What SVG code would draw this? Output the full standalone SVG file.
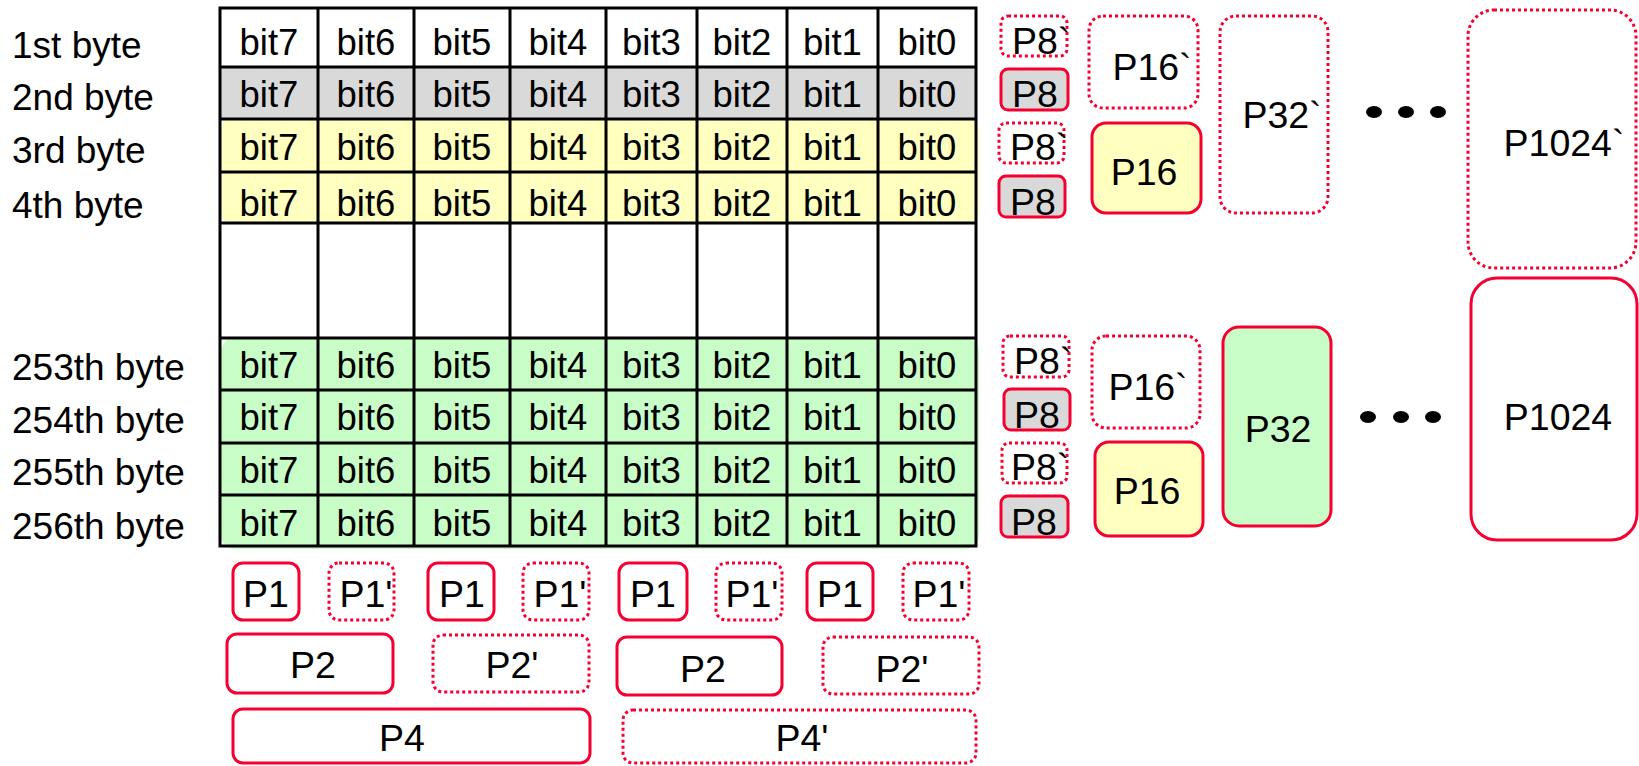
<svg xmlns="http://www.w3.org/2000/svg" width="1639" height="766" viewBox="0 0 1639 766">
<style>
text{font-family:"Liberation Sans",Arial,sans-serif;fill:#000}
.lb{font-size:37px}
.c{font-size:36.5px;text-anchor:middle}
.p{font-size:37.5px;text-anchor:middle}
.ps{font-size:37.5px}
.g{stroke:#000;stroke-width:3;fill:none}
.s{fill:#fff;stroke:#f50030;stroke-width:3}
.d{fill:#fff;stroke:#f50030;stroke-width:3;stroke-dasharray:3 3}
.gray{fill:#d9d9d9}
.yel{fill:#ffffc0}
.grn{fill:#c8fdc8}
</style>
<rect width="1639" height="766" fill="#fff"/>
<g id="labels">
<text class="lb" x="12" y="58">1st byte</text>
<text class="lb" x="12" y="110">2nd byte</text>
<text class="lb" x="12" y="163">3rd byte</text>
<text class="lb" x="12" y="218">4th byte</text>
<text class="lb" x="12" y="380">253th byte</text>
<text class="lb" x="12" y="433">254th byte</text>
<text class="lb" x="12" y="485">255th byte</text>
<text class="lb" x="12" y="539">256th byte</text>
</g>
<g id="grid">
<rect x="220" y="67" width="756" height="52" fill="#d9d9d9"/>
<rect x="221" y="119" width="758" height="104" rx="10" class="yel"/>
<rect x="221" y="338" width="758" height="211" rx="14" class="grn"/>
<rect x="220" y="8" width="756" height="538" class="g"/>
<path class="g" d="M318 8V546M414 8V546M510 8V546M606 8V546M697 8V546M787 8V546M878 8V546M220 67H976M220 119H976M220 172H976M220 223H976M220 338H976M220 390H976M220 443H976M220 495H976"/>
<g id="row1">
<text class="c" x="269" y="55">bit7</text><text class="c" x="366" y="55">bit6</text><text class="c" x="462" y="55">bit5</text><text class="c" x="558" y="55">bit4</text><text class="c" x="651.5" y="55">bit3</text><text class="c" x="742" y="55">bit2</text><text class="c" x="832.5" y="55">bit1</text><text class="c" x="927" y="55">bit0</text>
</g>
<g id="row2">
<text class="c" x="269" y="107">bit7</text><text class="c" x="366" y="107">bit6</text><text class="c" x="462" y="107">bit5</text><text class="c" x="558" y="107">bit4</text><text class="c" x="651.5" y="107">bit3</text><text class="c" x="742" y="107">bit2</text><text class="c" x="832.5" y="107">bit1</text><text class="c" x="927" y="107">bit0</text>
</g>
<g id="row3">
<text class="c" x="269" y="160">bit7</text><text class="c" x="366" y="160">bit6</text><text class="c" x="462" y="160">bit5</text><text class="c" x="558" y="160">bit4</text><text class="c" x="651.5" y="160">bit3</text><text class="c" x="742" y="160">bit2</text><text class="c" x="832.5" y="160">bit1</text><text class="c" x="927" y="160">bit0</text>
</g>
<g id="row4">
<text class="c" x="269" y="216">bit7</text><text class="c" x="366" y="216">bit6</text><text class="c" x="462" y="216">bit5</text><text class="c" x="558" y="216">bit4</text><text class="c" x="651.5" y="216">bit3</text><text class="c" x="742" y="216">bit2</text><text class="c" x="832.5" y="216">bit1</text><text class="c" x="927" y="216">bit0</text>
</g>
<g id="row253">
<text class="c" x="269" y="378">bit7</text><text class="c" x="366" y="378">bit6</text><text class="c" x="462" y="378">bit5</text><text class="c" x="558" y="378">bit4</text><text class="c" x="651.5" y="378">bit3</text><text class="c" x="742" y="378">bit2</text><text class="c" x="832.5" y="378">bit1</text><text class="c" x="927" y="378">bit0</text>
</g>
<g id="row254">
<text class="c" x="269" y="430">bit7</text><text class="c" x="366" y="430">bit6</text><text class="c" x="462" y="430">bit5</text><text class="c" x="558" y="430">bit4</text><text class="c" x="651.5" y="430">bit3</text><text class="c" x="742" y="430">bit2</text><text class="c" x="832.5" y="430">bit1</text><text class="c" x="927" y="430">bit0</text>
</g>
<g id="row255">
<text class="c" x="269" y="483">bit7</text><text class="c" x="366" y="483">bit6</text><text class="c" x="462" y="483">bit5</text><text class="c" x="558" y="483">bit4</text><text class="c" x="651.5" y="483">bit3</text><text class="c" x="742" y="483">bit2</text><text class="c" x="832.5" y="483">bit1</text><text class="c" x="927" y="483">bit0</text>
</g>
<g id="row256">
<text class="c" x="269" y="536">bit7</text><text class="c" x="366" y="536">bit6</text><text class="c" x="462" y="536">bit5</text><text class="c" x="558" y="536">bit4</text><text class="c" x="651.5" y="536">bit3</text><text class="c" x="742" y="536">bit2</text><text class="c" x="832.5" y="536">bit1</text><text class="c" x="927" y="536">bit0</text>
</g>
</g>
<g id="p8-top-1"><rect class="d" x="1001" y="16" width="66" height="40" rx="7"/><text class="ps" x="1012" y="54">P8`</text></g>
<g id="p8-top-2"><rect class="s gray" x="1001" y="69" width="67" height="41" rx="7"/><text class="ps" x="1012" y="107">P8</text></g>
<g id="p8-top-3"><rect class="d" x="999" y="123" width="65" height="40" rx="7"/><text class="ps" x="1010" y="160">P8`</text></g>
<g id="p8-top-4"><rect class="s gray" x="999" y="176" width="66" height="41" rx="7"/><text class="ps" x="1010" y="215">P8</text></g>
<g id="p16p-top"><rect class="d" x="1089" y="16" width="109" height="92" rx="14"/><text class="p" x="1152" y="80">P16`</text></g>
<g id="p16-top"><rect class="s yel" x="1092" y="123" width="109" height="90" rx="14"/><text class="p" x="1144" y="185">P16</text></g>
<g id="p32p"><rect class="d" x="1220" y="16" width="108" height="197" rx="16"/><text class="p" x="1282" y="128">P32`</text></g>
<g id="p8-bot-1"><rect class="d" x="1003" y="336" width="66" height="41" rx="7"/><text class="ps" x="1014" y="374">P8`</text></g>
<g id="p8-bot-2"><rect class="s gray" x="1004" y="389" width="66" height="41" rx="7"/><text class="ps" x="1014" y="428">P8</text></g>
<g id="p8-bot-3"><rect class="d" x="1002" y="443" width="65" height="40" rx="7"/><text class="ps" x="1011" y="480">P8`</text></g>
<g id="p8-bot-4"><rect class="s gray" x="1001" y="496" width="67" height="41" rx="7"/><text class="ps" x="1011" y="535">P8</text></g>
<g id="p16p-bot"><rect class="d" x="1092" y="336" width="108" height="92" rx="14"/><text class="p" x="1148" y="400">P16`</text></g>
<g id="p16-bot"><rect class="s yel" x="1095" y="442" width="108" height="94" rx="14"/><text class="p" x="1147" y="504">P16</text></g>
<g id="p32"><rect class="s grn" x="1223" y="327" width="108" height="199" rx="16"/><text class="p" x="1278" y="442">P32</text></g>
<g id="dots-top"><ellipse cx="1374" cy="112" rx="8" ry="6"/><ellipse cx="1406" cy="112" rx="8" ry="6"/><ellipse cx="1438" cy="112" rx="8" ry="6"/></g>
<g id="dots-bot"><ellipse cx="1368" cy="417" rx="8" ry="6"/><ellipse cx="1401" cy="417" rx="8" ry="6"/><ellipse cx="1433" cy="417" rx="8" ry="6"/></g>
<g id="p1024p"><rect class="d" x="1468" y="10" width="168" height="258" rx="26"/><text class="p" x="1564" y="156">P1024`</text></g>
<g id="p1024"><rect class="s" x="1471" y="278" width="166" height="262" rx="26"/><text class="p" x="1558" y="430">P1024</text></g>
<g id="p1-1"><rect class="s" x="233" y="563" width="66" height="57" rx="10"/><text class="p" x="266" y="607">P1</text></g>
<g id="p1p-1"><rect class="d" x="329" y="563" width="65" height="57" rx="10"/><text class="p" x="366" y="607">P1'</text></g>
<g id="p1-2"><rect class="s" x="428" y="563" width="66" height="57" rx="10"/><text class="p" x="462" y="607">P1</text></g>
<g id="p1p-2"><rect class="d" x="523" y="563" width="66" height="57" rx="10"/><text class="p" x="560" y="607">P1'</text></g>
<g id="p1-3"><rect class="s" x="619" y="563" width="68" height="57" rx="10"/><text class="p" x="653" y="607">P1</text></g>
<g id="p1p-3"><rect class="d" x="716" y="563" width="66" height="57" rx="10"/><text class="p" x="752" y="607">P1'</text></g>
<g id="p1-4"><rect class="s" x="807" y="563" width="66" height="57" rx="10"/><text class="p" x="840" y="607">P1</text></g>
<g id="p1p-4"><rect class="d" x="903" y="563" width="66" height="57" rx="10"/><text class="p" x="939" y="607">P1'</text></g>
<g id="p2-1"><rect class="s" x="227" y="634" width="166" height="59" rx="10"/><text class="p" x="313" y="678">P2</text></g>
<g id="p2p-1"><rect class="d" x="433" y="635" width="156" height="57" rx="10"/><text class="p" x="512" y="678">P2'</text></g>
<g id="p2-2"><rect class="s" x="617" y="637" width="165" height="58" rx="10"/><text class="p" x="703" y="682">P2</text></g>
<g id="p2p-2"><rect class="d" x="823" y="637" width="156" height="57" rx="10"/><text class="p" x="902" y="682">P2'</text></g>
<g id="p4"><rect class="s" x="233" y="709" width="357" height="54" rx="10"/><text class="p" x="402" y="751">P4</text></g>
<g id="p4p"><rect class="d" x="623" y="710" width="353" height="53" rx="10"/><text class="p" x="802" y="751">P4'</text></g>
</svg>
